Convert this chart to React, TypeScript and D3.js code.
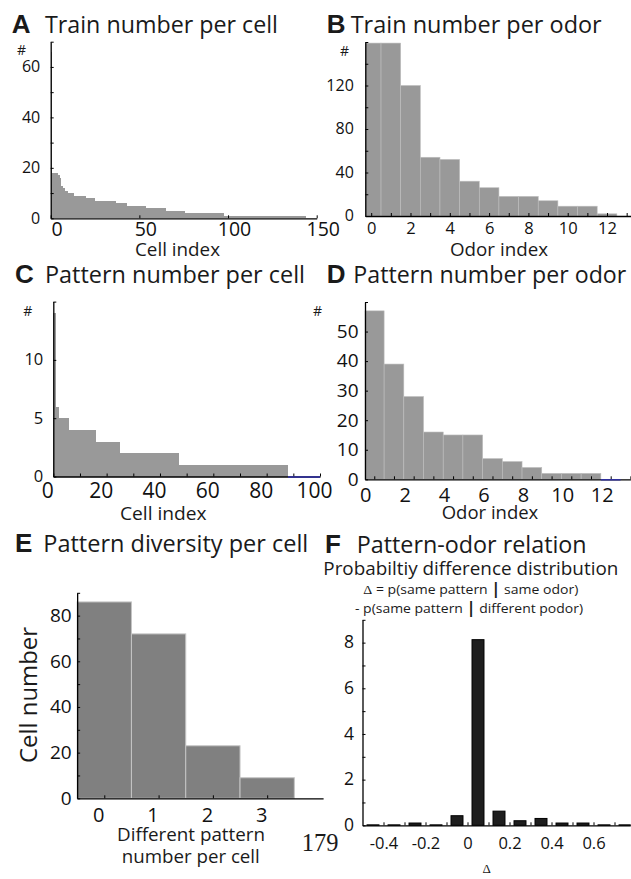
import React, { useEffect, useRef } from "react";
import * as d3 from "d3";

const FONT = "'Open Sans', sans-serif";

// A: train number per cell (sorted, run-length encoded: value, number of cells)
const trainCellValues = [66, 18, 17, 16, 13, 12, 11, 10, 9, 8, 7, 6, 5, 4, 3, 2, 1];
const trainCellCounts = [1, 3, 1, 1, 1, 1, 2, 3, 7, 5, 12, 6, 11, 11, 11, 22, 46];

// B: train number per odor
const odorIndex = [0, 1, 2, 3, 4, 5, 6, 7, 8, 9, 10, 11, 12];
const trainPerOdor = [159, 159, 120, 54, 52, 32, 26, 18, 18, 14, 9, 9, 2];

// C: pattern number per cell (run-length encoded)
const patternCellValues = [14, 6, 5, 4, 3, 2, 1, 0];
const patternCellCounts = [1, 1, 4, 10, 9, 22, 41, 12];

// D: pattern number per odor
const patternPerOdor = [57, 39, 28, 16, 15, 15, 7, 6, 4, 2, 2, 2, 0];

// E: pattern diversity per cell
const diversityLevels = [0, 1, 2, 3];
const diversityCells = [86, 72, 23, 9];

// F: probability difference distribution
const deltaBins = [-0.45, -0.35, -0.25, -0.15, -0.05, 0.05, 0.15, 0.25, 0.35, 0.45, 0.55, 0.65, 0.75];
const deltaDensity = [0.02, 0.02, 0.1, 0.02, 0.42, 8.13, 0.62, 0.2, 0.3, 0.1, 0.1, 0.02, 0.02];

type Bar = { x0: number; x1: number; v: number };

interface PanelOpts {
  xDomain: [number, number];
  xRange: [number, number];
  yDomain: [number, number];
  yRange: [number, number];
  bars: Bar[];
  fill: string;
  stroke: string;
  strokeWidth: number;
  crisp?: boolean;
  zeroColor?: string;
  xTicks: number[];
  xLabels: number[];
  xFormat?: (d: number) => string;
  xSize: number;
  xDy: number;
  xDx: number;
  yTicks: number[];
  yLabels: number[];
  ySize: number;
  yGap: number;
}

const runsToBars = (values: number[], counts: number[]): Bar[] => {
  let start = 0;
  return values.map((v, i) => {
    const b = { x0: start, x1: start + counts[i], v };
    start += counts[i];
    return b;
  });
};

const centeredBars = (xs: number[], vs: number[], w: number): Bar[] =>
  xs.map((c, i) => ({ x0: c - w / 2, x1: c + w / 2, v: vs[i] }));

const has = (list: number[], d: number) => list.some(l => Math.abs(l - d) < 1e-9);

function drawPanel(svg: d3.Selection<SVGSVGElement, unknown, null, undefined>, p: PanelOpts) {
  const x = d3.scaleLinear().domain(p.xDomain).range(p.xRange);
  const y = d3.scaleLinear().domain(p.yDomain).range(p.yRange);
  const [xMin, xMax] = p.xRange;
  const cx = (v: number) => Math.max(xMin, Math.min(xMax, x(v)));
  const g = svg.append("g");

  g.selectAll("rect.bar")
    .data(p.bars.filter(b => b.v > 0))
    .join("rect")
    .attr("class", "bar")
    .attr("x", d => cx(d.x0))
    .attr("width", d => cx(d.x1) - cx(d.x0))
    .attr("y", d => y(d.v))
    .attr("height", d => y(0) - y(d.v))
    .attr("fill", p.fill)
    .attr("stroke", p.stroke)
    .attr("stroke-width", p.strokeWidth)
    .attr("shape-rendering", p.crisp ? "crispEdges" : "auto");

  const fmt = p.xFormat || ((d: number) => String(d));

  // x axis, ticks pointing inward
  const gx = g.append("g")
    .attr("transform", `translate(0, ${y(0)})`)
    .call(d3.axisBottom(x)
      .tickValues(p.xTicks)
      .tickSizeInner(-3)
      .tickSizeOuter(0)
      .tickFormat(d => (has(p.xLabels, +d) ? fmt(+d) : "")));
  gx.select(".domain").attr("stroke-width", 1.3);
  gx.selectAll("text")
    .attr("y", p.xDy)
    .attr("dy", 0)
    .attr("dx", p.xDx)
    .attr("font-size", p.xSize)
    .attr("font-family", FONT)
    .attr("fill", "#111");

  // y axis
  const gy = g.append("g")
    .attr("transform", `translate(${xMin}, 0)`)
    .call(d3.axisLeft(y)
      .tickValues(p.yTicks)
      .tickSizeInner(-3)
      .tickSizeOuter(0)
      .tickFormat(d => (has(p.yLabels, +d) ? String(d) : "")));
  gy.select(".domain").attr("stroke-width", 1.3);
  gy.selectAll("text")
    .attr("x", -p.yGap)
    .attr("y", -1)
    .attr("dy", "0.36em")
    .attr("font-size", p.ySize)
    .attr("font-family", FONT)
    .attr("fill", "#111");

  // empty bins are drawn as coloured edges on the baseline
  if (p.zeroColor) {
    g.selectAll("line.zero")
      .data(p.bars.filter(b => b.v === 0))
      .join("line")
      .attr("x1", d => cx(d.x0))
      .attr("x2", d => cx(d.x1))
      .attr("y1", y(0) + 0.5)
      .attr("y2", y(0) + 0.5)
      .attr("stroke", p.zeroColor)
      .attr("stroke-width", 1.4);
  }
}

interface TextOpts {
  x: number;
  y: number;
  size: number;
  anchor?: string;
  weight?: string;
  family?: string;
  length?: number;
  rotate?: boolean;
}

function addText(svg: d3.Selection<SVGSVGElement, unknown, null, undefined>, text: string, o: TextOpts) {
  const t = svg.append("text")
    .attr("font-size", o.size)
    .attr("font-family", o.family || FONT)
    .attr("font-weight", o.weight || "normal")
    .attr("text-anchor", o.anchor || "start")
    .attr("fill", "#1a1a1a")
    .text(text);
  if (o.rotate) {
    t.attr("transform", `translate(${o.x}, ${o.y}) rotate(-90)`);
  } else {
    t.attr("x", o.x).attr("y", o.y);
  }
  if (o.length) t.attr("textLength", o.length).attr("lengthAdjust", "spacingAndGlyphs");
  return t;
}

const range = (a: number, b: number, s: number) => d3.range(a, b + s / 2, s).map(v => +v.toFixed(4));

export default function App() {
  const svgRef = useRef<SVGSVGElement>(null);

  useEffect(() => {
    if (!svgRef.current) return;
    const svg = d3.select(svgRef.current);
    svg.selectAll("*").remove();

    const gray = "#999999";

    // Panel A
    drawPanel(svg, {
      xDomain: [0, 150], xRange: [50.7, 316.7],
      yDomain: [0, 70], yRange: [218.3, 41.7],
      bars: runsToBars(trainCellValues, trainCellCounts),
      fill: gray, stroke: "none", strokeWidth: 0, crisp: true,
      xTicks: [0, 50, 100, 150], xLabels: [0, 50, 100, 150], xSize: 19.5, xDy: 17.7, xDx: 6,
      yTicks: range(0, 70, 10), yLabels: [0, 20, 40, 60], ySize: 16, yGap: 10.5,
    });

    // Panel B
    drawPanel(svg, {
      xDomain: [-0.3, 13.2], xRange: [365.3, 630.6],
      yDomain: [0, 160], yRange: [216, 42],
      bars: centeredBars(odorIndex, trainPerOdor, 1),
      fill: gray, stroke: "#bdbdbd", strokeWidth: 0.6,
      xTicks: range(0, 13, 1), xLabels: range(0, 12, 2), xSize: 16.5, xDy: 18, xDx: 0,
      yTicks: range(0, 160, 20), yLabels: [0, 40, 80, 120], ySize: 16, yGap: 11.5,
    });

    // Panel C
    drawPanel(svg, {
      xDomain: [0, 100], xRange: [53.3, 320],
      yDomain: [0, 15], yRange: [476.5, 301.6],
      bars: runsToBars(patternCellValues, patternCellCounts),
      fill: gray, stroke: "none", strokeWidth: 0, crisp: true, zeroColor: "#2f2fa8",
      xTicks: range(0, 100, 10), xLabels: range(0, 100, 20), xSize: 21, xDy: 21.8, xDx: -6,
      yTicks: [0, 5, 10, 15], yLabels: [0, 5, 10], ySize: 16.5, yGap: 10,
    });

    // Panel D
    drawPanel(svg, {
      xDomain: [-0.47, 13], xRange: [365, 630.4],
      yDomain: [0, 60], yRange: [479.3, 302],
      bars: centeredBars(odorIndex, patternPerOdor, 1),
      fill: gray, stroke: "#bdbdbd", strokeWidth: 0.6, zeroColor: "#2f2fa8",
      xTicks: range(0, 13, 1), xLabels: range(0, 12, 2), xSize: 20, xDy: 22.4, xDx: -9,
      yTicks: range(0, 60, 10), yLabels: range(0, 50, 10), ySize: 19, yGap: 6.5,
    });

    // Panel E
    drawPanel(svg, {
      xDomain: [-0.5, 4.03], xRange: [77.15, 323.1],
      yDomain: [0, 90], yRange: [798.3, 592.8],
      bars: centeredBars(diversityLevels, diversityCells, 1),
      fill: "#808080", stroke: "#c4c4c4", strokeWidth: 1,
      xTicks: [0, 1, 2, 3], xLabels: [0, 1, 2, 3], xSize: 20, xDy: 23.4, xDx: -6,
      yTicks: range(0, 90, 10), yLabels: range(0, 80, 20), ySize: 19, yGap: 5.5,
    });

    // Panel F
    drawPanel(svg, {
      xDomain: [-0.5, 0.775], xRange: [362.5, 630.25],
      yDomain: [0, 9], yRange: [825.3, 619.8],
      bars: centeredBars(deltaBins, deltaDensity, 0.057),
      fill: "#1e1e1e", stroke: "#000", strokeWidth: 1,
      xTicks: range(-0.4, 0.7, 0.1), xLabels: [-0.4, -0.2, 0, 0.2, 0.4, 0.6],
      xFormat: d => String(+d.toFixed(1)), xSize: 16.5, xDy: 24, xDx: 0,
      yTicks: range(0, 9, 1), yLabels: [0, 2, 4, 6, 8], ySize: 17.5, yGap: 8.5,
    });

    // Panel letters and titles
    const letters: [string, number, number][] = [
      ["A", 11.7, 33.3], ["B", 326.7, 33.3], ["C", 15, 283.3],
      ["D", 326.7, 283.3], ["E", 15, 551.7], ["F", 325, 553.3],
    ];
    letters.forEach(([l, x, y]) =>
      addText(svg, l, { x, y, size: 26, weight: "bold", family: "'Liberation Sans', Arial, sans-serif" }));

    addText(svg, "Train number per cell", { x: 45, y: 33.3, size: 23, length: 233 });
    addText(svg, "Train number per odor", { x: 350.7, y: 33.3, size: 23, length: 251 });
    addText(svg, "Pattern number per cell", { x: 45, y: 283.3, size: 23, length: 260 });
    addText(svg, "Pattern number per odor", { x: 353.3, y: 283.3, size: 23, length: 273 });
    addText(svg, "Pattern diversity per cell", { x: 43.3, y: 551.7, size: 23, length: 265 });
    addText(svg, "Pattern-odor relation", { x: 356.7, y: 553.3, size: 23, length: 230 });

    addText(svg, "Probabiltiy difference distribution", { x: 323.3, y: 575, size: 18.6, length: 295 });

    const s1 = svg.append("text")
      .attr("x", 363.3).attr("y", 594.3)
      .attr("font-size", 13.5).attr("font-family", FONT).attr("fill", "#1a1a1a")
      .attr("textLength", 215).attr("lengthAdjust", "spacingAndGlyphs");
    s1.append("tspan").attr("font-family", "'Liberation Serif', serif").text("\u0394");
    s1.append("tspan").text(" = p(same pattern ");
    s1.append("tspan").attr("font-weight", "bold").attr("font-size", 16).text("|");
    s1.append("tspan").text(" same odor)");

    const s2 = svg.append("text")
      .attr("x", 355).attr("y", 613.3)
      .attr("font-size", 13.5).attr("font-family", FONT).attr("fill", "#1a1a1a")
      .attr("textLength", 228).attr("lengthAdjust", "spacingAndGlyphs");
    s2.append("tspan").text("- p(same pattern ");
    s2.append("tspan").attr("font-weight", "bold").attr("font-size", 16).text("|");
    s2.append("tspan").text(" different podor)");

    // Axis labels
    addText(svg, "Cell index", { x: 177.5, y: 256, size: 18.7, anchor: "middle", length: 85 });
    addText(svg, "Odor index", { x: 499, y: 256, size: 18.7, anchor: "middle", length: 98 });
    addText(svg, "Cell index", { x: 163.3, y: 520, size: 18.7, anchor: "middle", length: 86.7 });
    addText(svg, "Odor index", { x: 490, y: 519.3, size: 18.7, anchor: "middle", length: 96.6 });
    addText(svg, "Cell number", { x: 36.7, y: 695, size: 23.8, anchor: "middle", length: 136, rotate: true });
    addText(svg, "Different pattern", { x: 191, y: 840.7, size: 19, anchor: "middle", length: 148 });
    addText(svg, "number per cell", { x: 190.8, y: 863.3, size: 19, anchor: "middle", length: 138 });
    addText(svg, "\u0394", { x: 486.7, y: 873, size: 13, anchor: "middle", family: "'Liberation Serif', serif" });

    // "#" unit marks
    [[17, 55], [340, 56], [23.3, 316], [313, 316]].forEach(([x, y]) =>
      addText(svg, "#", { x, y, size: 14 }));

    // page number
    addText(svg, "179", { x: 301.7, y: 851, size: 25, family: "'Liberation Serif', serif", length: 36.7 });
  }, []);

  return (
    <svg
      ref={svgRef}
      width={631}
      height={879}
      style={{ position: "absolute", left: 0, top: 0, background: "#fff" }}
    />
  );
}
